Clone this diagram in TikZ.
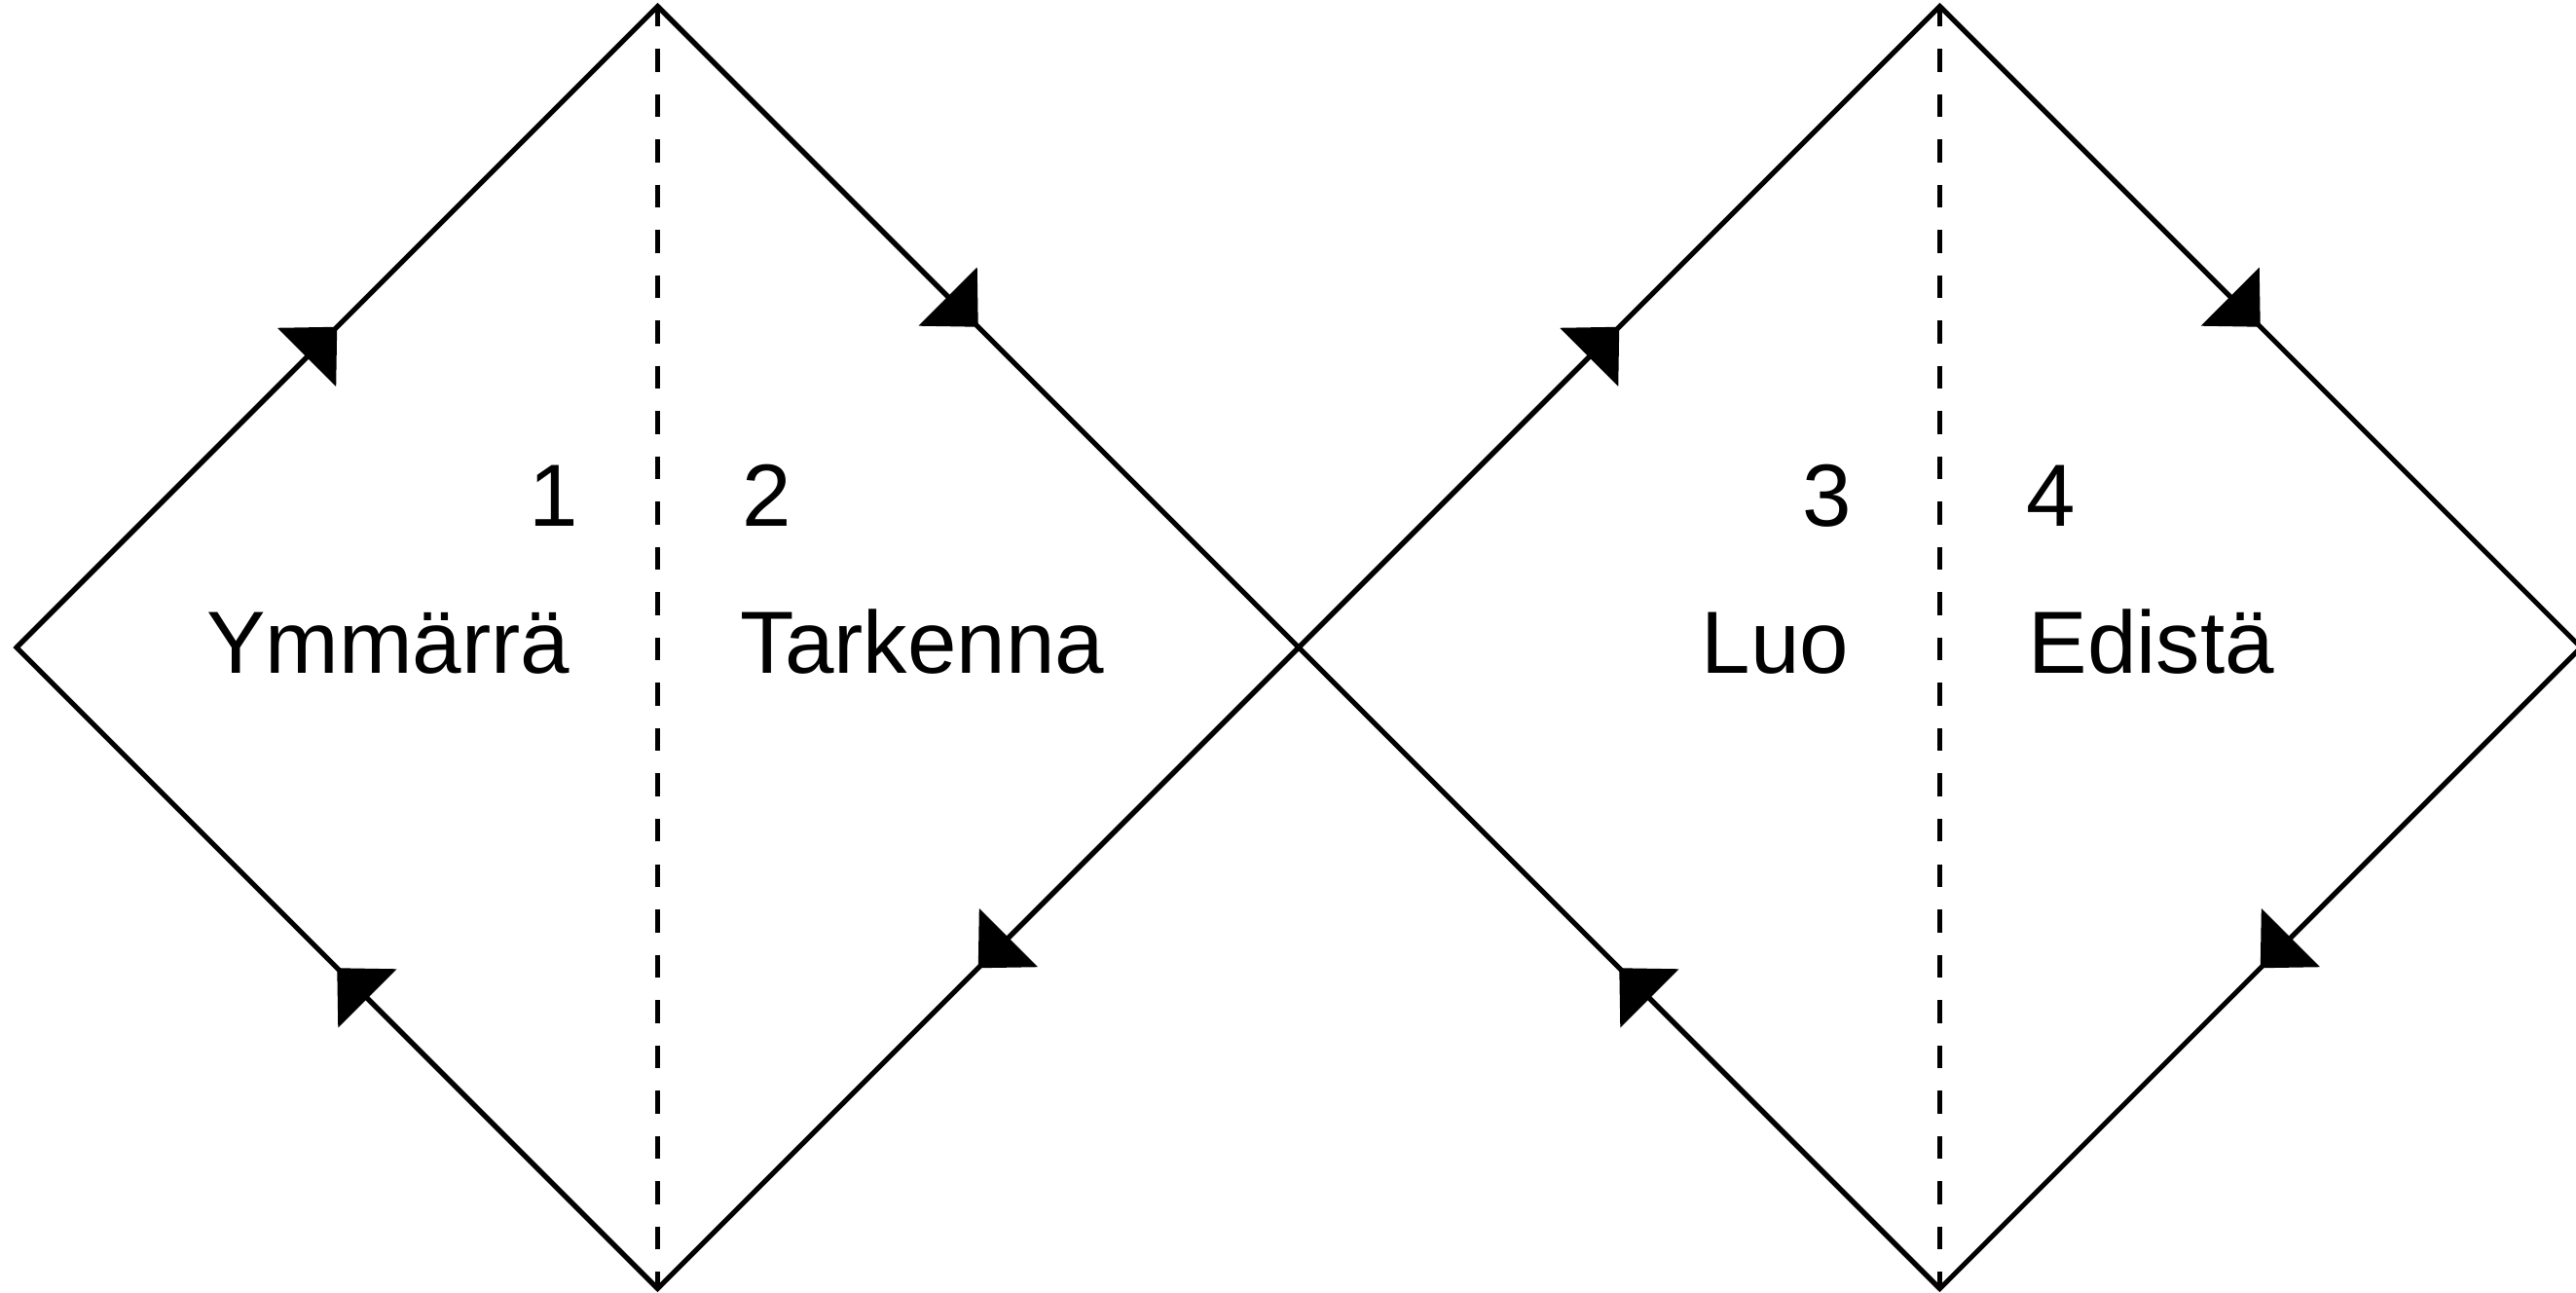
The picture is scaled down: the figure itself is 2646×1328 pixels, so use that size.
\documentclass[tikz,border=0pt]{standalone}
\usepackage{fontspec}
\setmainfont{Liberation Sans}
\usetikzlibrary{arrows.meta,calc}
\begin{document}
\begin{tikzpicture}[x=0.01cm,y=-0.01cm,
  edge/.style={line width=0.05cm, line join=miter},
  arr/.style={edge, -{Triangle[length=0.44cm,width=0.84cm]}},
  divider/.style={line width=0.045cm, dash pattern=on 0.235cm off 0.23cm, dash phase=0.03cm},
  lbl/.style={inner sep=0pt, font=\fontsize{25.8pt}{30pt}\selectfont}]
\fill[white] (0,0) rectangle (2646,1328);
\useasboundingbox (0,0) rectangle (2646,1328);
% vertices
\coordinate (L)  at (17,665);
\coordinate (T1) at (675.5,6.5);
\coordinate (B1) at (675.5,1323.5);
\coordinate (C)  at (1334,665);
\coordinate (T2) at (1992.5,6.5);
\coordinate (B2) at (1992.5,1323.5);
\coordinate (R)  at (2651,665);
% dividers
\draw[divider] (T1) -- (B1);
\draw[divider] (T2) -- (B2);
% outlines
\draw[edge] (L) -- (T1) -- (C) -- (B1) -- cycle;
\draw[edge] (C) -- (T2) -- (R) -- (B2) -- cycle;
% arrowheads at the middle of each edge
\foreach \a/\b in {L/T1, T1/C, C/B1, B1/L, C/T2, T2/R, R/B2, B2/C}
  \draw[arr] (\a) -- ($(\a)!0.5!(\b)$);
% labels
\node[lbl, anchor=base east] (n1) at (595,541) {1};
\node[lbl, anchor=base east] (t1) at (586,692) {Ymmärrä};
\node[lbl, anchor=base west] (n2) at (762,541) {2};
\node[lbl, anchor=base west] (t2) at (760,692) {Tarkenna};
\node[lbl, anchor=base east] (n3) at (1903,541) {3};
\node[lbl, anchor=base east] (t3) at (1900,692) {Luo};
\node[lbl, anchor=base west] (n4) at (2081,541) {4};
\node[lbl, anchor=base west] (t4) at (2083,692) {Edistä};
\end{tikzpicture}
\end{document}
